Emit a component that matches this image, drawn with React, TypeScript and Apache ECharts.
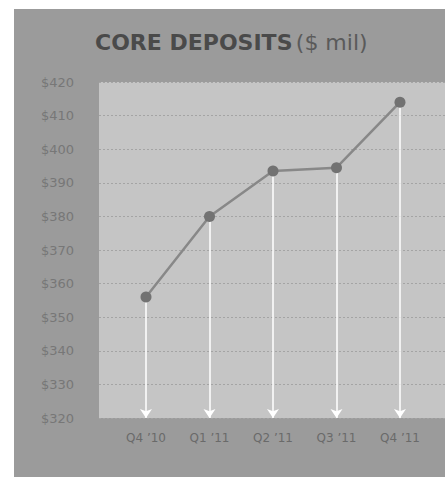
import React, { useEffect, useRef } from "react";
import * as echarts from "echarts";

const categories = ["Q4 ’10", "Q1 ’11", "Q2 ’11", "Q3 ’11", "Q4 ’11"];
const deposits = [356, 380, 393.5, 394.5, 414];
const yMin = 320;
const yMax = 420;
const yStep = 10;

export default function App() {
  const ref = useRef<HTMLDivElement>(null);
  useEffect(() => {
    if (!ref.current) return;
    const chart = echarts.init(ref.current, undefined, { renderer: "svg" });
    const points = deposits.map((v, i) => [i, v]);
    chart.setOption({
      animation: false,
      backgroundColor: "#ffffff",
      graphic: [
        {
          type: "rect",
          z: -10,
          shape: { x: 14, y: 9, width: 431, height: 468 },
          style: { fill: "#9b9b9b" },
        },
        {
          type: "text",
          left: 95,
          top: 31,
          style: {
            text: "{b|CORE DEPOSITS} {n|($ mil)}",
            rich: {
              b: { fontFamily: "DejaVu Sans", fontWeight: "bold", fontSize: 22, fill: "#4a4a4a" },
              n: { fontFamily: "DejaVu Sans", fontSize: 22, fill: "#5a5a5a" },
            },
          },
        },
      ],
      grid: {
        left: 99,
        top: 82,
        right: 0,
        bottom: 61,
        show: true,
        backgroundColor: "#c5c5c5",
        borderWidth: 0,
      },
      xAxis: {
        type: "value",
        min: -0.74,
        max: 4.709,
        axisLine: { show: false },
        axisTick: { show: false },
        splitLine: { show: false },
        axisLabel: {
          customValues: [0, 1, 2, 3, 4],
          formatter: (v: number) => categories[Math.round(v)] ?? "",
          color: "#6a6a6a",
          fontSize: 12,
          fontFamily: "DejaVu Sans",
          margin: 14,
        },
      },
      yAxis: {
        type: "value",
        min: yMin,
        max: yMax,
        interval: yStep,
        axisLine: { show: false },
        axisTick: { show: false },
        axisLabel: {
          formatter: (v: number) => "$" + v,
          color: "#777777",
          fontSize: 13,
          fontFamily: "DejaVu Sans",
          margin: 25,
        },
        splitLine: { lineStyle: { color: "#a4a4a4", type: [2, 2], width: 1 } },
      },
      series: [
        {
          type: "line",
          data: points,
          lineStyle: { color: "#888888", width: 2.5 },
          itemStyle: { color: "#727272" },
          symbol: "circle",
          symbolSize: 11,
          z: 5,
          markLine: {
            silent: true,
            symbol: ["none", "arrow"],
            symbolSize: 9,
            label: { show: false },
            lineStyle: { color: "#ffffff", width: 1.5, type: "solid" },
            z: 3,
            data: points.map((p) => [
              { coord: [p[0], p[1]] },
              { coord: [p[0], yMin] },
            ]),
          },
        },
      ],
    });
    return () => chart.dispose();
  }, []);
  return (
    <div
      ref={ref}
      style={{ position: "fixed", left: 0, top: 0, width: 445, height: 479 }}
    />
  );
}
